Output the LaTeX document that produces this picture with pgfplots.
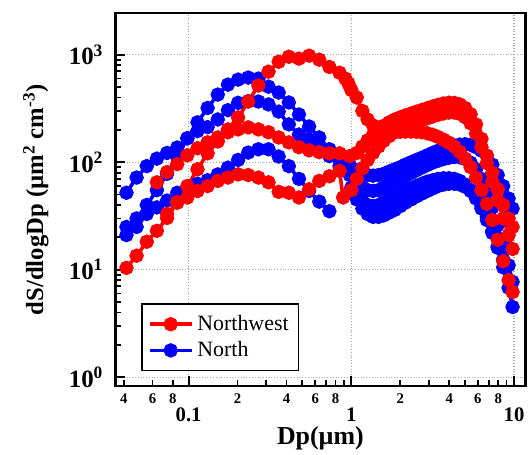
\documentclass[border=0pt]{standalone}
\usepackage{fontspec}
\setmainfont{Liberation Serif}
\usepackage{pgfplots}
\pgfplotsset{compat=1.18}
\definecolor{nwred}{RGB}{255,0,0}
\definecolor{nblue}{RGB}{0,0,255}
\pgfplotsset{
  nw/.style={color=nwred, line width=1.8pt, mark=*, mark size=2.7pt, mark options={solid}},
  nn/.style={color=nblue, line width=1.8pt, mark=*, mark size=2.7pt, mark options={solid}},
}
\begin{document}
\begin{tikzpicture}
\begin{axis}[
  scale only axis, width=206pt, height=187.5pt,
  xmode=log, ymode=log,
  xmin=0.0355, xmax=11.76, ymin=0.825, ymax=2449,
  axis line style={line width=1.3pt},
  tick align=inside, tick pos=left,
  major tick length=5pt, minor tick length=3pt,
  every tick/.style={black, line width=0.9pt},
  xtick={0.1,1,10}, xticklabels={0.1,1,10},
  xticklabel style={font=\fontsize{10.4}{12}\selectfont\bfseries, inner ysep=1pt},
  xticklabel shift=9.5pt,
  extra x ticks={0.04,0.06,0.08,0.2,0.4,0.6,0.8,2,4,6,8},
  extra x tick labels={4,6,8,2,4,6,8,2,4,6,8},
  extra x tick style={grid=none, major tick length=3pt, xticklabel shift=2.5pt,
    xticklabel style={font=\fontsize{7.4}{9}\selectfont\bfseries}},
  ytick={1,10,100,1000},
  yticklabels={{10\textsuperscript{0}},{10\textsuperscript{1}},{10\textsuperscript{2}},{10\textsuperscript{3}}},
  yticklabel style={font=\fontsize{12.5}{14}\selectfont\bfseries, xshift=-2.5pt},
  grid=major, major grid style={densely dotted, gray!70, line width=0.6pt},
  xlabel={Dp(µm)},
  xlabel style={font=\fontsize{13}{15}\selectfont\bfseries, at={(axis description cs:0.5,-0.106)}, anchor=north, inner sep=0pt},
  ylabel={dS/dlogDp (µm\textsuperscript{2} cm\textsuperscript{-3})},
  ylabel style={font=\fontsize{12.4}{14}\selectfont\bfseries, at={(axis description cs:-0.194,0.5)}, anchor=center, inner sep=0pt},
  legend style={at={(0.063,0.04)}, anchor=south west, draw=black, line width=0.8pt,
    font=\fontsize{11}{13}\selectfont, cells={anchor=west}, inner xsep=3pt, inner ysep=3.5pt},
  legend image code/.code={\draw[mark repeat=2,mark phase=2,#1] plot coordinates {(0pt,0pt) (10.5pt,0pt) (21pt,0pt)};},
]
\addlegendimage{nw}\addlegendentry{Northwest\hspace{5pt}}
\addlegendimage{nn}\addlegendentry{North}

% North: fine mode + coarse mode
\addplot[nn, forget plot] coordinates {
 (0.0415,52) (0.0479,72) (0.0553,92) (0.0638,108) (0.0737,122) (0.0851,137) (0.0982,167)
 (0.1134,235) (0.1308,320) (0.1511,426) (0.1744,527) (0.2014,587) (0.2325,613) (0.2684,600)
 (0.3098,505) (0.3577,445) (0.4129,360) (0.4767,278) (0.5503,215) (0.6353,170) (0.7334,132)
 (0.8467,105) (0.9777,95)
 (1.08,84) (1.17,79) (1.26,76) (1.36,75) (1.47,76) (1.58,78) (1.71,82) (1.85,86) (2.00,90)
 (2.15,95) (2.33,100) (2.51,105) (2.71,110) (2.93,116) (3.16,122) (3.41,128) (3.69,134)
 (3.98,139) (4.30,143) (4.64,146) (5.01,147) (5.41,145) (5.84,138) (6.31,128) (6.81,115)
 (7.36,95) (7.94,76) (8.58,60) (9.26,46) (9.80,37)
};
\addplot[nn, forget plot] coordinates {
 (0.0415,25) (0.0479,30) (0.0553,40) (0.0638,55) (0.0737,78) (0.0851,112) (0.0982,167)
 (0.1134,195) (0.1308,212) (0.1511,250) (0.1744,305) (0.2014,357) (0.2325,370) (0.2684,367)
 (0.3098,345) (0.3577,296) (0.4129,225) (0.4767,181) (0.5503,163) (0.6353,132) (0.7334,114)
 (0.8467,92) (0.9777,76)
 (1.08,64) (1.17,58) (1.26,55) (1.36,54) (1.47,55) (1.58,58) (1.71,62) (1.85,66) (2.00,70)
 (2.15,74) (2.33,79) (2.51,84) (2.71,89) (2.93,94) (3.16,99) (3.41,103) (3.69,107)
 (3.98,110) (4.30,112) (4.64,111) (5.01,107) (5.41,99) (5.84,86) (6.31,70) (6.81,53)
 (7.36,38) (7.94,26) (8.58,17) (9.26,11) (9.80,7.7)
};
\addplot[nn, forget plot] coordinates {
 (0.0415,21) (0.0479,25) (0.0553,33) (0.0638,38) (0.0737,44) (0.0851,52) (0.0982,57)
 (0.1134,63) (0.1308,68) (0.1511,77) (0.1744,89) (0.2014,105) (0.2325,123) (0.2684,132)
 (0.3098,132) (0.3577,113) (0.4129,92) (0.4767,70) (0.5503,54) (0.6353,43) (0.7334,35)
};
\addplot[nn, forget plot] coordinates {
 (1.00,58) (1.08,45) (1.17,37) (1.26,33) (1.36,31) (1.47,31) (1.58,32) (1.71,34) (1.85,36)
 (2.00,39) (2.15,42) (2.33,45) (2.51,48) (2.71,51) (2.93,54) (3.16,57) (3.41,60) (3.69,62)
 (3.98,63) (4.30,63) (4.64,62) (5.01,59) (5.41,54) (5.84,47) (6.31,39) (6.81,31) (7.36,23)
 (7.94,16) (8.58,10.5) (9.26,6.8) (9.80,4.5)
};
\addplot[nn, forget plot] coordinates {
 (1.08,52) (1.17,44) (1.26,40) (1.36,39) (1.47,40) (1.58,42) (1.71,45) (1.85,48) (2.00,51)
 (2.15,54) (2.33,57) (2.51,60) (2.71,63) (2.93,66) (3.16,68) (3.41,70) (3.69,71) (3.98,71)
 (4.30,70) (4.64,67) (5.01,62) (5.41,55) (5.84,46) (6.31,37) (6.81,29) (7.36,22) (7.94,16.5)
 (8.58,12.5) (8.90,10.6)
};

% Northwest: fine mode + coarse mode
\addplot[nw, forget plot] coordinates {
 (0.0415,10.4) (0.0479,13.5) (0.0553,18.2) (0.0638,23.0) (0.0737,30.3) (0.0851,42.6)
 (0.0982,60) (0.1134,86) (0.1308,121) (0.1511,156) (0.1744,202) (0.2014,261) (0.2325,367)
 (0.2684,517) (0.3098,696) (0.3577,861) (0.4129,958) (0.4767,920) (0.5503,980) (0.6353,900)
 (0.7334,770) (0.8467,680) (0.92,600) (0.96,540)
 (1.00,470) (1.08,400) (1.17,300) (1.26,250) (1.36,220) (1.47,202) (1.58,194) (1.71,190)
 (1.85,190) (2.00,192) (2.15,193) (2.33,193) (2.51,192) (2.71,190) (2.93,186) (3.16,180)
 (3.41,172) (3.69,162) (3.98,152) (4.30,140) (4.64,125) (5.01,108) (5.41,90) (5.84,72)
 (6.31,55) (6.81,41) (7.36,29) (7.94,19) (8.58,12) (9.26,8) (9.80,6.2)
};
\addplot[nw, forget plot] coordinates {
 (0.0638,65) (0.0737,81) (0.0851,96) (0.0982,116) (0.1134,135) (0.1308,153) (0.1511,170)
 (0.1744,190) (0.2014,202) (0.2325,211) (0.2684,202) (0.3098,190) (0.3577,170) (0.4129,153)
 (0.4767,138) (0.5503,129) (0.6353,124) (0.7334,121) (0.8467,121) (0.9777,114)
 (1.08,122) (1.17,140) (1.26,160) (1.36,180) (1.47,200) (1.58,218) (1.71,235) (1.85,250)
 (2.00,262) (2.15,273) (2.33,284) (2.51,295) (2.71,306) (2.93,318) (3.16,330) (3.41,342)
 (3.69,352) (3.98,358) (4.30,356) (4.64,345) (5.01,320) (5.41,280) (5.84,225) (6.31,165)
 (6.81,115) (7.36,80) (7.94,56) (8.58,40) (9.26,30) (9.80,25)
};
\addplot[nw, forget plot] coordinates {
 (0.0737,33) (0.0851,42) (0.0982,47) (0.1134,54) (0.1308,60) (0.1511,67) (0.1744,72)
 (0.2014,77) (0.2325,76) (0.2684,72) (0.3098,65) (0.3577,53) (0.4129,52) (0.4767,47)
 (0.5503,56) (0.6353,67) (0.7334,74) (0.8467,83) (0.89,47)
 (1.00,55) (1.08,70) (1.17,88) (1.26,105) (1.36,122) (1.47,140) (1.58,158) (1.71,175)
 (1.85,190) (2.00,203) (2.15,214) (2.33,225) (2.51,236) (2.71,246) (2.93,256) (3.16,266)
 (3.41,276) (3.69,284) (3.98,290) (4.30,290) (4.64,282) (5.01,262) (5.41,230) (5.84,185)
 (6.31,138) (6.81,98) (7.36,66) (7.94,44) (8.58,30) (9.26,21) (9.80,15.6)
};
\end{axis}
\path (current axis.south west) ++(-58pt,-34.5pt) rectangle ([shift={(1.25pt,6.5pt)}]current axis.north east);
\end{tikzpicture}
\end{document}
